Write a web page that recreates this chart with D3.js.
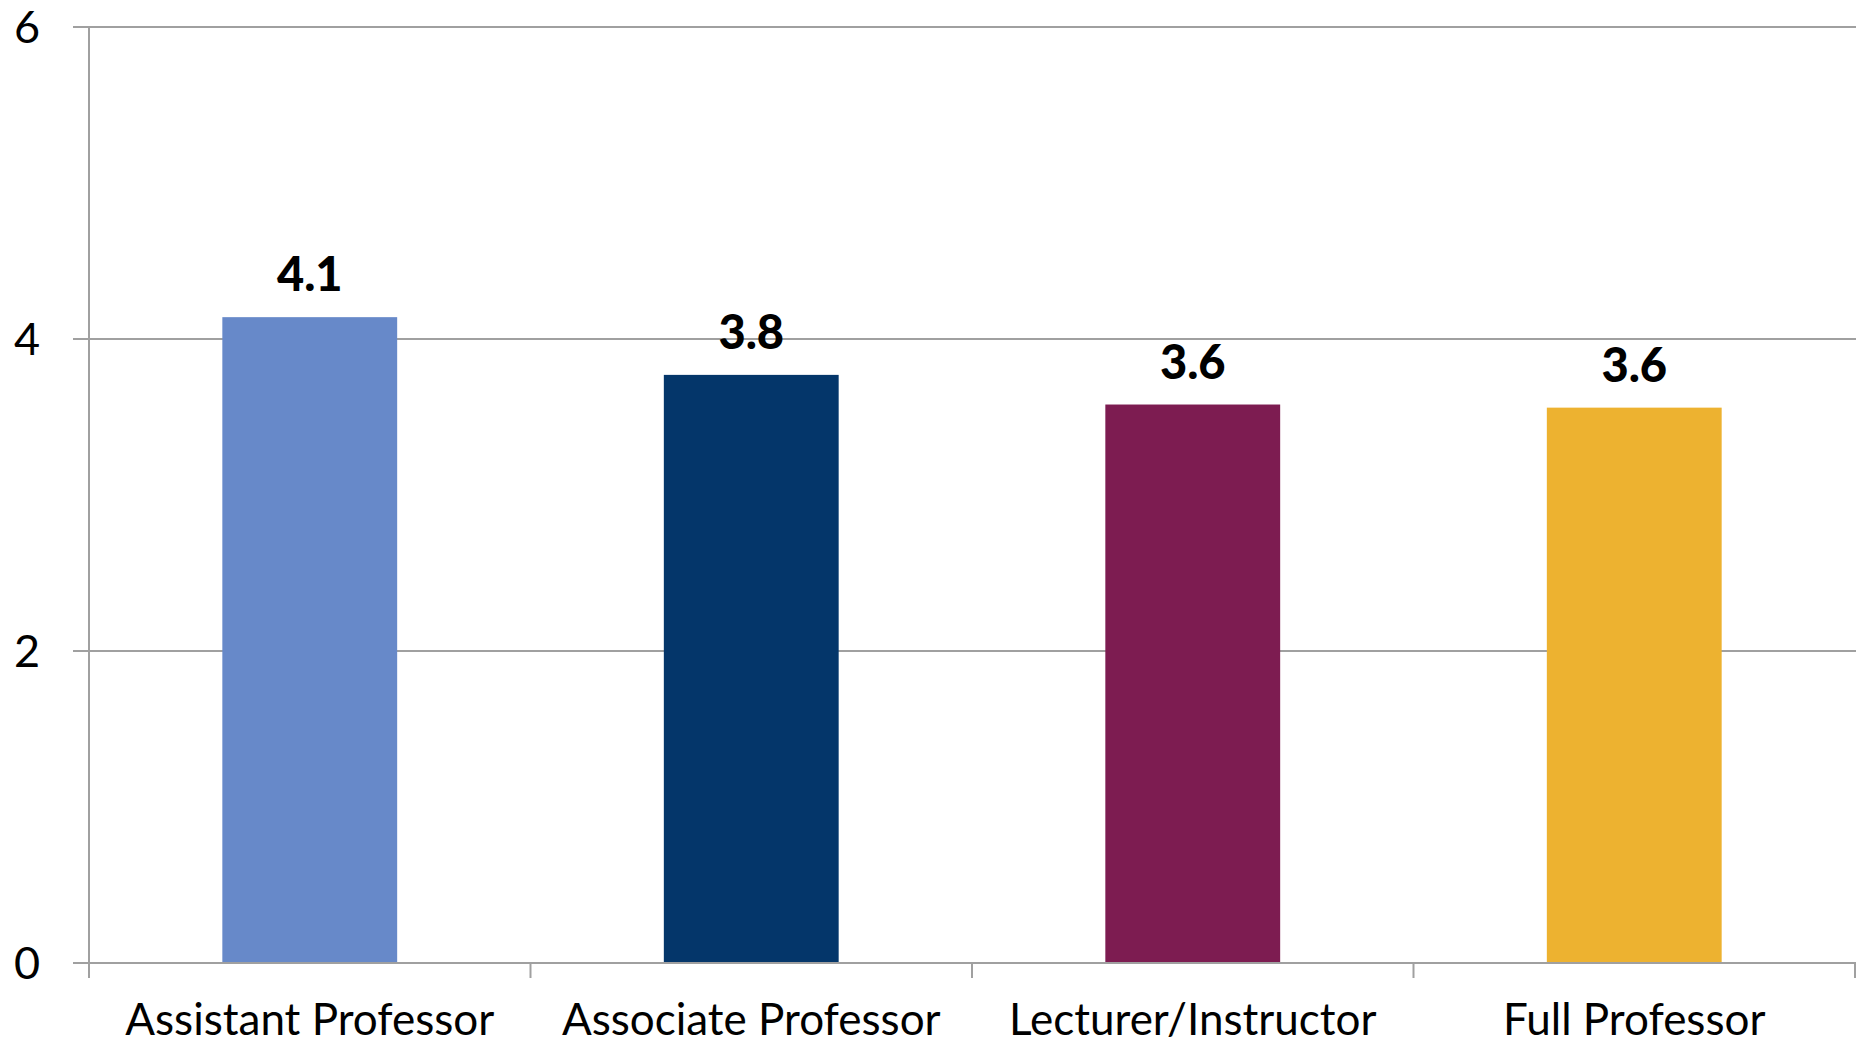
<!DOCTYPE html>
<html>
<head>
<meta charset="utf-8">
<script src="https://cdn.jsdelivr.net/npm/d3@7"></script>
<style>
  html, body { margin: 0; padding: 0; background: #ffffff; }
  svg { display: block; }
  text { font-family: Lato, "Open Sans", sans-serif; fill: #000; }
</style>
</head>
<body>
<script>
const categories = ["Assistant Professor", "Associate Professor", "Lecturer/Instructor", "Full Professor"];
const values = [4.14, 3.77, 3.58, 3.56];
const colors = ["#6789C9", "#04366A", "#7D1C51", "#EDB230"];
const yTicks = [0, 2, 4, 6];

const W = 1858, H = 1046;
const plotLeft = 89, plotRight = 1855, plotTop = 27, plotBottom = 963;
const gridColor = "#A0A0A0";

const svg = d3.select("body").append("svg").attr("width", W).attr("height", H);

const x = d3.scaleBand().domain(categories).range([plotLeft, plotRight])
  .paddingInner(0.604).paddingOuter(0.302);
const y = d3.scaleLinear().domain([0, 6]).range([plotBottom, plotTop]);

// gridlines
svg.append("g").selectAll("line").data(yTicks).join("line")
  .attr("x1", plotLeft - 16).attr("x2", plotRight + 1)
  .attr("y1", d => y(d)).attr("y2", d => y(d))
  .attr("stroke", gridColor).attr("stroke-width", 2);

// y tick labels
svg.append("g").selectAll("text").data(yTicks).join("text")
  .attr("x", 40).attr("y", d => y(d)).attr("dy", "0.36em")
  .attr("text-anchor", "end")
  .style("font-size", "45px")
  .text(d => d);

// y axis line
svg.append("line")
  .attr("x1", plotLeft).attr("x2", plotLeft)
  .attr("y1", plotTop).attr("y2", plotBottom + 15)
  .attr("stroke", gridColor).attr("stroke-width", 2);

// category divider ticks
const step = x.step();
const dividers = d3.range(categories.length + 1).map(i => plotLeft + i * step);
svg.append("g").selectAll("line").data(dividers).join("line")
  .attr("x1", d => d).attr("x2", d => d)
  .attr("y1", plotBottom).attr("y2", plotBottom + 15)
  .attr("stroke", gridColor).attr("stroke-width", 2);

// bars
svg.append("g").selectAll("rect").data(categories).join("rect")
  .attr("x", d => x(d))
  .attr("width", x.bandwidth())
  .attr("y", (d, i) => y(values[i]))
  .attr("height", (d, i) => y(0) - y(values[i]))
  .attr("fill", (d, i) => colors[i]);

// x axis baseline
svg.append("line")
  .attr("x1", plotLeft - 16).attr("x2", plotRight + 1)
  .attr("y1", plotBottom).attr("y2", plotBottom)
  .attr("stroke", gridColor).attr("stroke-width", 2);

// value labels
const fmt = d3.format(".1f");
svg.append("g").selectAll("text").data(categories).join("text")
  .attr("x", d => x(d) + x.bandwidth() / 2)
  .attr("y", (d, i) => y(values[i]) - 26)
  .attr("text-anchor", "middle")
  .style("font-size", "47px").style("font-weight", "900")
  .text((d, i) => fmt(values[i]));

// category labels
svg.append("g").selectAll("text").data(categories).join("text")
  .attr("x", d => x(d) + x.bandwidth() / 2)
  .attr("y", 1035)
  .attr("text-anchor", "middle")
  .style("font-size", "44px")
  .text(d => d);
</script>
</body>
</html>
